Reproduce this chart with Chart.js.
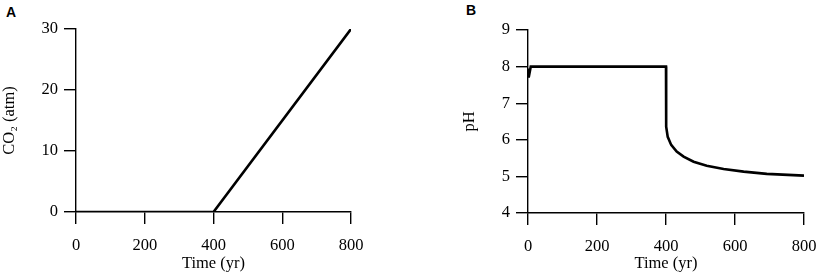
<!DOCTYPE html>
<html>
<head>
<meta charset="utf-8">
<script src="https://cdn.jsdelivr.net/npm/chart.js@4.4.0/dist/chart.umd.min.js"></script>
<style>
  body { margin: 0; background: #fff; width: 817px; height: 276px; position: relative; overflow: hidden; }
  .panel { position: absolute; top: 0; height: 276px; }
  .lbl { position: absolute; font: bold 14px "Liberation Sans", Arial, sans-serif; color: #000; }
</style>
</head>
<body>
<div class="lbl" style="left:6px;top:4px;">A</div>
<div class="lbl" style="left:466px;top:2px;">B</div>
<div class="panel" style="left:0;width:400px;"><canvas id="chartA" width="400" height="276"></canvas></div>
<div class="panel" style="left:460px;width:357px;"><canvas id="chartB" width="357" height="276"></canvas></div>
<script>
// panel A: CO2 forcing
var timeCO2 = [0, 400, 800];
var co2 = [0, 0, 30];

// panel B: pH response
var timePH = [0, 2, 8, 400, 400.5, 405, 415, 431, 451, 480, 518, 567, 625, 692, 800];
var ph = [7.95, 7.7, 8.0, 8.0, 6.36, 6.08, 5.86, 5.68, 5.54, 5.40, 5.29, 5.20, 5.13, 5.07, 5.02];

var serif = { family: '"Liberation Serif", "Times New Roman", serif', size: 16.5 };

function pairs(xs, ys) {
    return xs.map(function(x, i) { return { x: x, y: ys[i] }; });
}

function axisStyle() {
    return {
        grid: { display: true, drawOnChartArea: false, drawTicks: true, tickLength: 12, color: '#000', lineWidth: 1.4 },
        border: { display: true, color: '#000', width: 1.4 }
    };
}

function makeChart(id, xs, ys, yMin, yMax, yStep, yTitle, xHeight, yWidth, pad) {
    var xs_ = axisStyle();
    var ys_ = axisStyle();
    return new Chart(document.getElementById(id).getContext('2d'), {
        type: 'line',
        data: {
            datasets: [{
                data: pairs(xs, ys),
                borderColor: '#000',
                borderWidth: 2.6,
                pointRadius: 0,
                tension: 0,
                fill: false
            }]
        },
        options: {
            responsive: false,
            animation: false,
            events: [],
            layout: { padding: pad },
            plugins: { legend: { display: false }, tooltip: { enabled: false } },
            scales: {
                x: {
                    type: 'linear',
                    min: 0, max: 800,
                    grid: xs_.grid, border: xs_.border,
                    ticks: { stepSize: 200, color: '#000', font: serif, padding: 12, maxRotation: 0 },
                    title: { display: true, text: 'Time (yr)', color: '#000', font: serif, padding: { top: 0, bottom: 2 } },
                    afterFit: function(scale) {
                        scale.height = xHeight;
                        scale.paddingLeft = 0;
                        scale.paddingRight = 0;
                    }
                },
                y: {
                    type: 'linear',
                    min: yMin, max: yMax,
                    grid: ys_.grid, border: ys_.border,
                    ticks: { stepSize: yStep, color: '#000', font: serif, padding: 6 },
                    title: { display: true, text: yTitle, color: '#000', font: serif, padding: { top: 0, bottom: 0 } },
                    afterFit: function(scale) {
                        scale.width = yWidth;
                        scale.paddingTop = 0;
                        scale.paddingBottom = 0;
                    }
                }
            }
        }
    });
}

makeChart('chartA', timeCO2, co2, 0, 30, 10, 'CO\u2082 (atm)', 64, 76, { top: 29, right: 49, bottom: 0, left: 0 });
makeChart('chartB', timePH, ph, 4, 9, 1, 'pH', 63, 68, { top: 30, right: 13, bottom: 0, left: 0 });
</script>
</body>
</html>
